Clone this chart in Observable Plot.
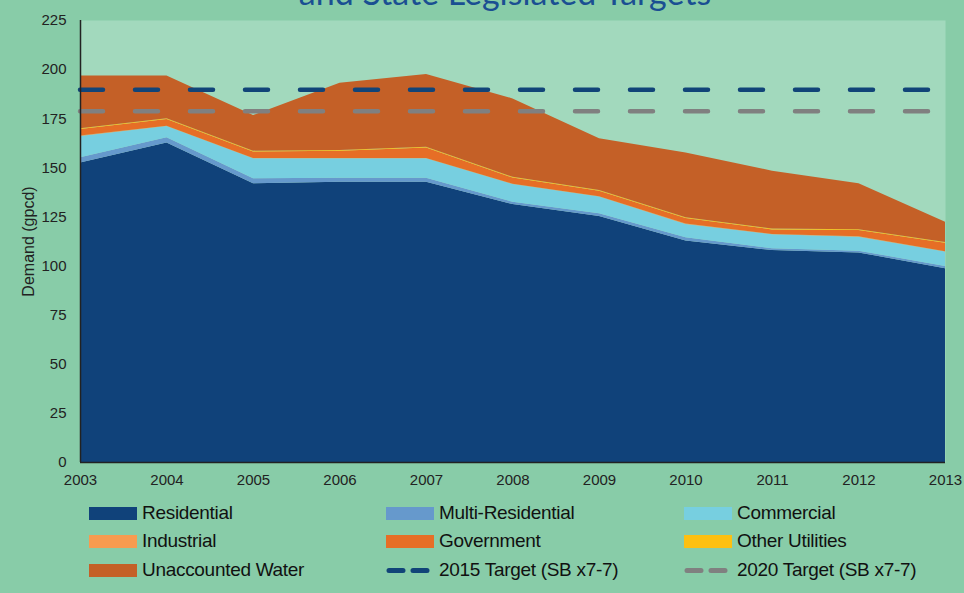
<!DOCTYPE html>
<html><head><meta charset="utf-8">
<script src="https://cdn.jsdelivr.net/npm/d3@7"></script>
<script src="https://cdn.jsdelivr.net/npm/@observablehq/plot@0.6"></script>
<style>
body{margin:0;background:#88cca8;width:964px;height:593px;overflow:hidden;position:relative;font-family:"Liberation Sans",Arial,sans-serif;}
#chart{position:absolute;left:0;top:0;}
#title{position:absolute;left:0;top:0;}
#legend{position:absolute;left:0;top:0;width:964px;height:593px;}
.item{position:absolute;display:flex;align-items:center;font-size:19px;color:#111;white-space:nowrap;letter-spacing:-0.3px;}
.sw{width:48px;height:13px;margin-right:5px;}
</style></head><body>
<div id="chart"></div>
<svg id="title" width="964" height="40"><text x="505" y="5" text-anchor="middle" font-family="Lato, sans-serif" font-size="34" fill="#1a4f92">and State Legislated Targets</text></svg>
<div id="legend"></div>
<script>
const years = [2003, 2004, 2005, 2006, 2007, 2008, 2009, 2010, 2011, 2012, 2013];
const residential      = [152.4, 162.6, 141.9, 142.7, 142.7, 131.3, 125.2, 112.7, 107.9, 106.7, 98.6];
const multiResidential = [2.7, 2.7, 2.5, 2.0, 2.0, 1.2, 1.4, 1.7, 0.9, 0.9, 1.2];
const commercial       = [10.9, 5.7, 10.2, 9.9, 9.9, 9.0, 8.5, 6.8, 7.1, 7.1, 7.3];
const industrial       = [0.2, 0.2, 0.2, 0.2, 0.2, 0.2, 0.2, 0.2, 0.2, 0.2, 0.2];
const government       = [3.3, 3.4, 3.3, 3.6, 5.3, 3.1, 2.8, 2.8, 2.3, 3.2, 4.3];
const otherUtilities   = [0.4, 0.4, 0.4, 0.4, 0.4, 0.4, 0.4, 0.4, 0.4, 0.4, 0.4];
const unaccounted      = [26.9, 21.8, 18.1, 34.3, 37.0, 39.9, 26.3, 32.9, 29.5, 23.4, 10.3];
const target2015 = 189.7;
const target2020 = 178.8;
const yTicks = [0, 25, 50, 75, 100, 125, 150, 175, 200, 225];

const seriesNames = ["Residential", "Multi-Residential", "Commercial", "Industrial", "Government", "Other Utilities", "Unaccounted Water"];
const seriesValues = [residential, multiResidential, commercial, industrial, government, otherUtilities, unaccounted];
const seriesColors = ["#10427a", "#6699cc", "#77cfe0", "#f79b50", "#e66e26", "#fdc010", "#c46027"];
const targetNames = ["2015 Target (SB x7-7)", "2020 Target (SB x7-7)"];
const targetColors = ["#114478", "#808080"];

const rows = [];
seriesNames.forEach((s, i) => years.forEach((y, j) => rows.push({year: y, series: s, value: seriesValues[i][j]})));

const plot = Plot.plot({
  width: 964, height: 495,
  marginLeft: 80, marginRight: 19, marginTop: 20, marginBottom: 33,
  style: {background: "transparent", fontSize: "15px", fontFamily: "'Liberation Sans', Arial, sans-serif", color: "#222"},
  x: {domain: [2003, 2013], ticks: years, tickFormat: d => String(d), tickSize: 0, tickPadding: 12, label: null},
  y: {domain: [0, 225], ticks: yTicks, tickSize: 0, tickPadding: 14, label: "Demand (gpcd)", labelAnchor: "center", labelOffset: 58, labelArrow: "none"},
  color: {domain: seriesNames, range: seriesColors},
  marks: [
    Plot.frame({fill: "#a2d9bd", stroke: "none"}),
    Plot.areaY(rows, {x: "year", y: "value", fill: "series", order: seriesNames}),
    Plot.ruleY([target2015], {stroke: targetColors[0], strokeWidth: 4.5, strokeDasharray: "23,32", strokeLinecap: "round"}),
    Plot.ruleY([target2020], {stroke: targetColors[1], strokeWidth: 4.5, strokeDasharray: "23,32", strokeLinecap: "round"}),
    Plot.ruleY([0], {stroke: "#222", strokeWidth: 1.5}),
    Plot.ruleX([years[0]], {stroke: "#222", strokeWidth: 1.5})
  ]
});
d3.select(plot).selectAll('[aria-label="y-axis label"]').attr("font-size", 16).style("font-size", "16px");
document.getElementById("chart").appendChild(plot);

// legend
const legend = document.getElementById("legend");
const colX = [89, 386, 684];
const rowY = [513, 541, 570];
const entries = seriesNames.map((n, i) => ({name: n, color: seriesColors[i], dash: false}))
  .concat(targetNames.map((n, i) => ({name: n, color: targetColors[i], dash: true})));
entries.forEach((e, k) => {
  const r = Math.floor(k / 3), c = k % 3;
  const div = document.createElement("div");
  div.className = "item";
  div.style.left = colX[c] + "px";
  div.style.top = (rowY[r] - 11) + "px";
  div.style.height = "22px";
  if (e.dash) {
    div.innerHTML = `<svg width="48" height="13" style="margin-right:5px"><line x1="3" y1="6.5" x2="45" y2="6.5" stroke="${e.color}" stroke-width="5" stroke-linecap="round" stroke-dasharray="14,10"/></svg>`;
  } else {
    div.innerHTML = `<div class="sw" style="background:${e.color}"></div>`;
  }
  const span = document.createElement("span");
  span.textContent = e.name;
  div.appendChild(span);
  legend.appendChild(div);
});
</script>
</body></html>
